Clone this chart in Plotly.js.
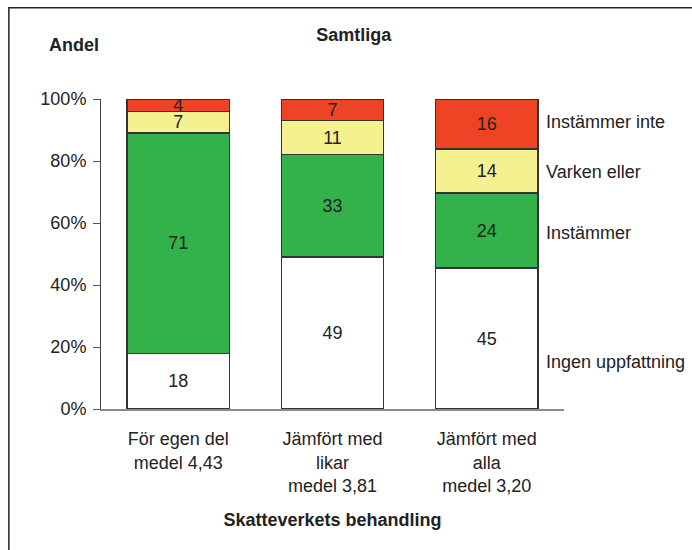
<!DOCTYPE html>
<html>
<head>
<meta charset="utf-8">
<script src="https://cdn.plot.ly/plotly-3.0.1.min.js"></script>
<style>
html,body{margin:0;padding:0;background:#fff;}
#chart{width:692px;height:550px;}
</style>
</head>
<body>
<div id="chart"></div>
<script>
const categories = ["För egen del<br>medel 4,43", "Jämfört med<br>likar<br>medel 3,81", "Jämfört med<br>alla<br>medel 3,20"];
const seriesNames = ["Ingen uppfattning", "Instämmer", "Varken eller", "Instämmer inte"];
const ingenUppfattning = [18, 49, 45];
const instammer = [71, 33, 24];
const varkenEller = [7, 11, 14];
const instammerInte = [4, 7, 16];
const yTickVals = [0, 20, 40, 60, 80, 100];
const yTickText = ["0%", "20%", "40%", "60%", "80%", "100%"];
const seriesColors = ["#ffffff", "#33b14b", "#f6f190", "#ee4325"];

const xIdx = categories.map((c, i) => i);
const values = [ingenUppfattning, instammer, varkenEller, instammerInte];
const font = "Liberation Sans, Arial, sans-serif";
const txt = "#222";

const traces = values.map((v, k) => ({
  type: "bar",
  name: seriesNames[k],
  x: xIdx,
  y: v,
  text: v.map(String),
  textposition: "inside",
  insidetextanchor: "middle",
  textangle: 0,
  textfont: {family: font, size: 18, color: txt},
  marker: {color: seriesColors[k], line: {color: "#333", width: 1.3}},
  hoverinfo: "skip",
  showlegend: false
}));

const labelY = [15.2, 56.8, 76.5, 92.6];
const annotations = [
  {text: "<b>Andel</b>", xref: "paper", yref: "paper", x: -0.058, y: 1.174, showarrow: false,
   font: {family: font, size: 18, color: txt}, xanchor: "center", yanchor: "middle"}
].concat(seriesNames.map((n, k) => ({
  text: n, xref: "paper", yref: "y", x: 0.957, y: labelY[k], showarrow: false,
  xanchor: "left", yanchor: "middle", font: {family: font, size: 18, color: txt}
})));

const layout = {
  width: 692, height: 550,
  margin: {l: 101, r: 128, t: 99, b: 141},
  paper_bgcolor: "#fff", plot_bgcolor: "rgba(0,0,0,0)",
  barmode: "stack",
  barnorm: "percent",
  bargap: 0.337,
  uniformtext: {minsize: 18, mode: "show"},
  font: {family: font, size: 18, color: txt},
  title: {text: "<b>Samtliga</b>", x: 0.546, xref: "paper", y: 1 - 35/550, yref: "container",
          xanchor: "center", yanchor: "middle", font: {family: font, size: 18, color: txt}},
  xaxis: {
    range: [-0.5, 2.5], tickvals: xIdx, ticktext: categories,
    showline: true, linecolor: "#8a8a8a", linewidth: 1.5, ticks: "", showgrid: false, zeroline: false,
    tickfont: {family: font, size: 18, color: txt}, ticklabelstandoff: 13,
    title: {text: "<b>Skatteverkets behandling</b>", standoff: 18, font: {family: font, size: 18, color: txt}},
    fixedrange: true
  },
  yaxis: {
    range: [0, 100], tickvals: yTickVals, ticktext: yTickText,
    showline: true, linecolor: "#444", linewidth: 1, ticks: "outside", ticklen: 7, tickcolor: "#555",
    showgrid: false, zeroline: false, tickfont: {family: font, size: 18, color: txt},
    ticklabelstandoff: 3, fixedrange: true
  },
  annotations: annotations,
  shapes: [{type: "rect", xref: "paper", yref: "paper", x0: -0.199, x1: 1.6, y0: -0.7, y1: 1.294,
            line: {color: "#222", width: 1.5}, fillcolor: "rgba(0,0,0,0)", layer: "below"}]
};

Plotly.newPlot("chart", traces, layout, {displayModeBar: false, staticPlot: true});
</script>
</body>
</html>
